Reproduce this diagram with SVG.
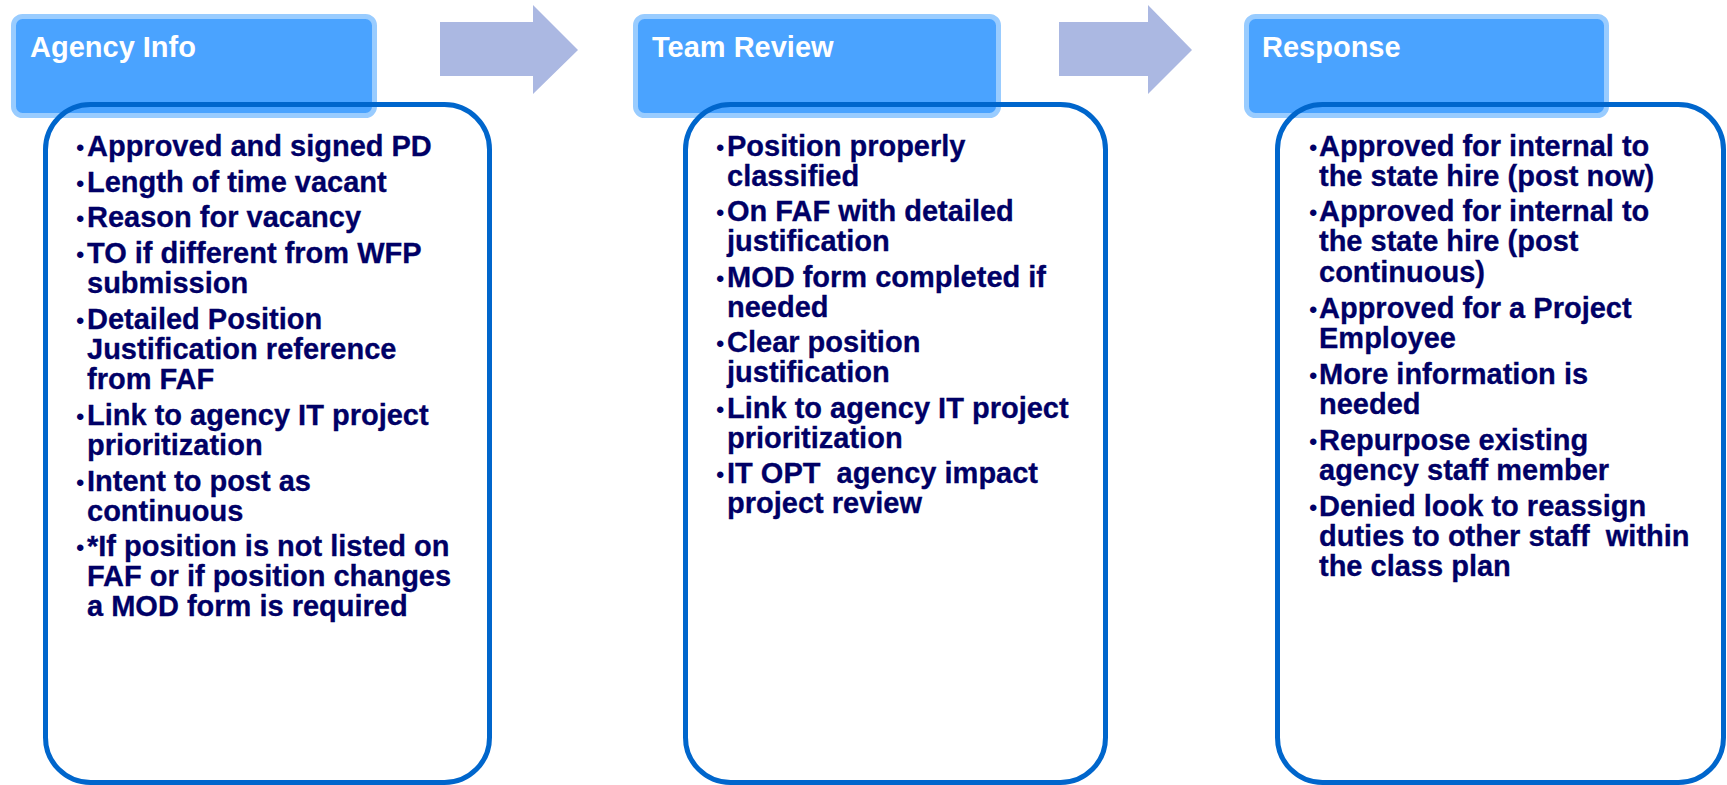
<svg xmlns="http://www.w3.org/2000/svg" width="1727" height="785" viewBox="0 0 1727 785">
<style>
.hdr{fill:#4aa3ff;stroke:#99ccff;stroke-width:5}
.box{fill:none;stroke:#0066cc;stroke-width:5}
.arrow{fill:#abb8e2;stroke:none}
.title{font-family:"Liberation Sans",Arial,sans-serif;font-weight:bold;font-size:29px;fill:#ffffff}
.item{font-family:"Liberation Sans",Arial,sans-serif;font-weight:bold;font-size:29px;fill:#000066;stroke:#000066;stroke-width:0.3}
.bul{font-family:"Liberation Sans",Arial,sans-serif;font-size:24px;fill:#000066}
</style>
<rect width="1727" height="785" fill="#ffffff"/>
<g id="connectors">
<polygon class="arrow" points="440,22 533,22 533,5 578,50 533,94 533,76 440,76"/>
<polygon class="arrow" points="1059,22 1148,22 1148,5 1192,50 1148,94 1148,76 1059,76"/>
</g>
<g id="agency-info">
<rect class="hdr" x="13.5" y="16.5" width="361" height="99" rx="9"/>
<text class="title" x="30" y="57">Agency Info</text>
<rect class="box" x="45.5" y="104.5" width="444" height="678" rx="45"/>
<g class="bul">
<text x="76" y="155.7">•</text>
<text x="76" y="191.5">•</text>
<text x="76" y="227.3">•</text>
<text x="76" y="263.1">•</text>
<text x="76" y="328.9">•</text>
<text x="76" y="424.7">•</text>
<text x="76" y="490.5">•</text>
<text x="76" y="556.3">•</text>
</g>
<g class="item">
<text x="87" y="155.7">Approved and signed PD</text>
<text x="87" y="191.5">Length of time vacant</text>
<text x="87" y="227.3">Reason for vacancy</text>
<text x="87" y="263.1">TO if different from WFP</text>
<text x="87" y="293.1">submission</text>
<text x="87" y="328.9">Detailed Position</text>
<text x="87" y="358.9">Justification reference</text>
<text x="87" y="388.9">from FAF</text>
<text x="87" y="424.7">Link to agency IT project</text>
<text x="87" y="454.7">prioritization</text>
<text x="87" y="490.5">Intent to post as</text>
<text x="87" y="520.5">continuous</text>
<text x="87" y="556.3">*If position is not listed on</text>
<text x="87" y="586.3">FAF or if position changes</text>
<text x="87" y="616.3">a MOD form is required</text>
</g>
</g>
<g id="team-review">
<rect class="hdr" x="635.5" y="16.5" width="363" height="99" rx="9"/>
<text class="title" x="652" y="57">Team Review</text>
<rect class="box" x="685.5" y="104.5" width="420" height="678" rx="45"/>
<g class="bul">
<text x="716" y="155.7">•</text>
<text x="716" y="221.2">•</text>
<text x="716" y="286.7">•</text>
<text x="716" y="352.2">•</text>
<text x="716" y="417.7">•</text>
<text x="716" y="483.2">•</text>
</g>
<g class="item">
<text x="727" y="155.7">Position properly</text>
<text x="727" y="185.7">classified</text>
<text x="727" y="221.2">On FAF with detailed</text>
<text x="727" y="251.2">justification</text>
<text x="727" y="286.7">MOD form completed if</text>
<text x="727" y="316.7">needed</text>
<text x="727" y="352.2">Clear position</text>
<text x="727" y="382.2">justification</text>
<text x="727" y="417.7">Link to agency IT project</text>
<text x="727" y="447.7">prioritization</text>
<text x="727" y="483.2" xml:space="preserve">IT OPT  agency impact</text>
<text x="727" y="513.2">project review</text>
</g>
</g>
<g id="response">
<rect class="hdr" x="1246.5" y="16.5" width="360" height="99" rx="9"/>
<text class="title" x="1262" y="57">Response</text>
<rect class="box" x="1277.5" y="104.5" width="446" height="678" rx="45"/>
<g class="bul">
<text x="1309" y="155.7">•</text>
<text x="1309" y="221.2">•</text>
<text x="1309" y="317.5">•</text>
<text x="1309" y="383.5">•</text>
<text x="1309" y="449.5">•</text>
<text x="1309" y="515.5">•</text>
</g>
<g class="item">
<text x="1319" y="155.7">Approved for internal to</text>
<text x="1319" y="185.7">the state hire (post now)</text>
<text x="1319" y="221.2">Approved for internal to</text>
<text x="1319" y="251.2">the state hire (post</text>
<text x="1319" y="281.7">continuous)</text>
<text x="1319" y="317.5">Approved for a Project</text>
<text x="1319" y="348">Employee</text>
<text x="1319" y="383.5">More information is</text>
<text x="1319" y="414">needed</text>
<text x="1319" y="449.5">Repurpose existing</text>
<text x="1319" y="480">agency staff member</text>
<text x="1319" y="515.5">Denied look to reassign</text>
<text x="1319" y="545.5" xml:space="preserve">duties to other staff  within</text>
<text x="1319" y="575.5">the class plan</text>
</g>
</g>
</svg>
